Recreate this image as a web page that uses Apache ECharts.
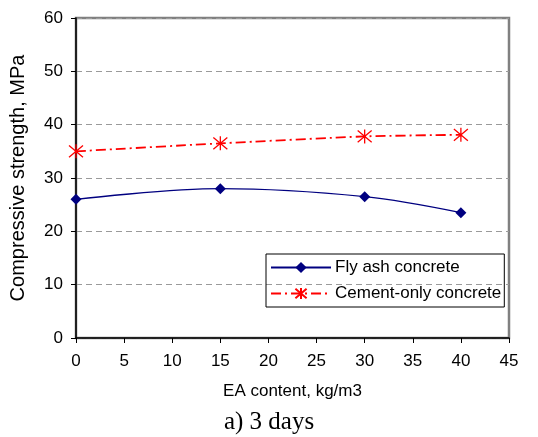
<!DOCTYPE html>
<html>
<head>
<meta charset="utf-8">
<script src="https://cdn.jsdelivr.net/npm/echarts@6/dist/echarts.min.js"></script>
<style>html,body{margin:0;padding:0;background:#fff}#c{width:538px;height:437px}</style>
</head>
<body>
<div id="c"></div>
<script>
const eaContent = [0, 15, 30, 40];
const flyAsh = [26, 28, 26.5, 23.5];
const cementOnly = [35, 36.5, 37.8, 38.1];
const seriesNames = ['Fly ash concrete', 'Cement-only concrete'];
const xAxisTitle = 'EA content, kg/m3';
const yAxisTitle = 'Compressive strength, MPa';
const caption = 'a) 3 days';

const asterisk = 'path://M0,0 L10,10 M10,0 L0,10 M5,-1 L5,11';
const chart = echarts.init(document.getElementById('c'));
const font = '"Liberation Sans", Arial, sans-serif';
chart.setOption({
  animation: false,
  backgroundColor: '#fff',
  textStyle: { fontFamily: font },
  grid: { left: 76, right: 29, top: 18, bottom: 99, show: true, borderColor: '#808080', borderWidth: 2.5, backgroundColor: 'transparent' },
  xAxis: {
    type: 'value', min: 0, max: 45, interval: 5,
    name: xAxisTitle, nameLocation: 'middle', nameGap: 45,
    nameTextStyle: { fontSize: 17, color: '#000', fontFamily: font },
    axisLine: { show: true, lineStyle: { color: '#000', width: 1.5 } },
    axisTick: { show: true, inside: false, length: 5, lineStyle: { color: '#000' } },
    axisLabel: { fontSize: 17, color: '#000', margin: 15, fontFamily: font },
    splitLine: { show: false }
  },
  yAxis: {
    type: 'value', min: 0, max: 60, interval: 10,
    name: yAxisTitle, nameLocation: 'middle', nameGap: 48,
    nameTextStyle: { fontSize: 20, color: '#000', fontFamily: font },
    axisLine: { show: true, lineStyle: { color: '#000', width: 1.5 } },
    axisTick: { show: true, inside: false, length: 5, lineStyle: { color: '#000' } },
    axisLabel: { fontSize: 17, color: '#000', margin: 13, fontFamily: font },
    splitLine: { show: true, lineStyle: { color: '#9a9a9a', type: [6, 4], width: 1 } }
  },
  legend: {
    orient: 'vertical', left: 266, top: 254,
    borderColor: '#000', borderWidth: 1,
    padding: [5, 3, 5, 4], itemGap: 9,
    itemWidth: 60, itemHeight: 14,
    textStyle: { fontSize: 17, color: '#000', fontFamily: font, padding: [0, 0, 0, -1] },
    data: seriesNames
  },
  series: [
    {
      name: seriesNames[0], type: 'line', smooth: 0.35,
      data: eaContent.map((x, i) => [x, flyAsh[i]]),
      symbol: 'diamond', symbolSize: 11,
      lineStyle: { color: '#000080', width: 1.4 },
      itemStyle: { color: '#000080' }
    },
    {
      name: seriesNames[1], type: 'line', smooth: 0.2,
      data: eaContent.map((x, i) => [x, cementOnly[i]]),
      symbol: asterisk, symbolSize: 14,
      lineStyle: { color: '#ff0000', width: 1.8, type: [10, 4, 2, 4] },
      itemStyle: { color: 'none', borderColor: '#ff0000', borderWidth: 1.3 }
    }
  ],
  graphic: [
    { type: 'text', left: 'center', top: 410, style: { text: caption, font: '25px "Liberation Serif", "Times New Roman", serif', fill: '#000' } }
  ]
});
</script>
</body>
</html>
